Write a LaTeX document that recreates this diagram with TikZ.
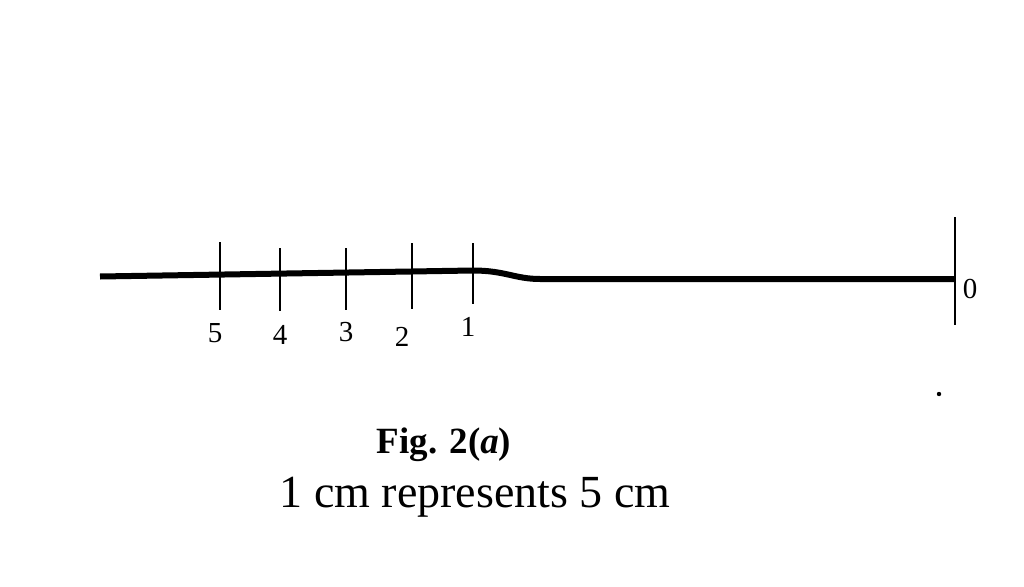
\documentclass[tikz,border=0pt]{standalone}
\usepackage{fontspec}
\setmainfont{Liberation Serif}
\begin{document}
\begin{tikzpicture}[x=1pt,y=-1pt,
  mainline/.style={line width=6pt},
  tickmark/.style={line width=2.6pt},
  ticklabel/.style={inner sep=0pt,font=\fontsize{29}{32}\selectfont},
]
\useasboundingbox (0,0) rectangle (1024,586);
% main line
\coordinate (L0) at (100,276.5);
\coordinate (L1) at (473,270.5);
\coordinate (L2) at (540,279);
\coordinate (R) at (955,279);
\draw[mainline] (L0) -- (L1) .. controls (505,270.5) and (515,279) .. (L2) -- (R);
% ticks
\coordinate (t5a) at (220,242); \coordinate (t5b) at (220,310);
\coordinate (t4a) at (280,248); \coordinate (t4b) at (280,311);
\coordinate (t3a) at (346,248); \coordinate (t3b) at (346,310);
\coordinate (t2a) at (412,243); \coordinate (t2b) at (412,309);
\coordinate (t1a) at (473,243); \coordinate (t1b) at (473,304);
\coordinate (t0a) at (955,217); \coordinate (t0b) at (955,325);
\foreach \i in {5,4,3,2,1,0} \draw[tickmark] (t\i a) -- (t\i b);
% labels
\node[ticklabel] (n5) at (215,333) {5};
\node[ticklabel] (n4) at (280,335) {4};
\node[ticklabel] (n3) at (346,332) {3};
\node[ticklabel] (n2) at (402,337) {2};
\node[ticklabel] (n1) at (468,327) {1};
\node[ticklabel] (n0) at (970,289) {0};
% stray dot
\fill (939,394) circle (2.2);
% captions
\node[inner sep=0pt,font=\fontsize{37}{40}\selectfont\bfseries] (cap) at (444,445) {Fig. 2(\textit{a})};
\node[inner sep=0pt,font=\fontsize{46}{50}\selectfont] (scale) at (475,497) {1 cm represents 5 cm};
\end{tikzpicture}
\end{document}
